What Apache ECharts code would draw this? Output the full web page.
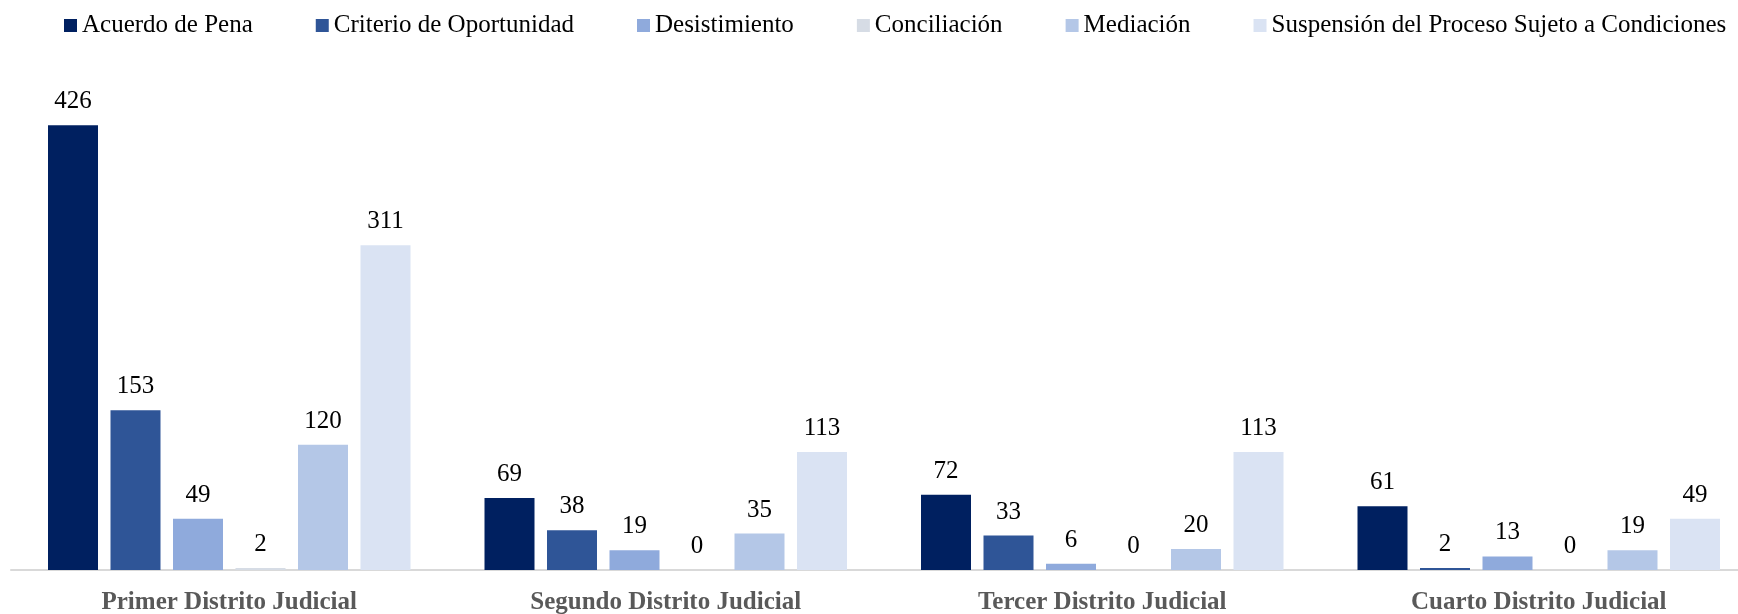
<!DOCTYPE html>
<html><head><meta charset="utf-8">
<script src="https://cdn.jsdelivr.net/npm/echarts@6/dist/echarts.min.js"></script>
<style>html,body{margin:0;padding:0;background:#fff}#c{width:1738px;height:614px}</style>
</head><body><div id="c"></div>
<script>
const categories = ['Primer Distrito Judicial','Segundo Distrito Judicial','Tercer Distrito Judicial','Cuarto Distrito Judicial'];
const seriesNames = ['Acuerdo de Pena','Criterio de Oportunidad','Desistimiento','Conciliación','Mediación','Suspensión del Proceso Sujeto a Condiciones'];
const acuerdoDePena = [426, 69, 72, 61];
const criterioDeOportunidad = [153, 38, 33, 2];
const desistimiento = [49, 19, 6, 13];
const conciliacion = [2, 0, 0, 0];
const mediacion = [120, 35, 20, 19];
const suspension = [311, 113, 113, 49];
const colors = ['#002060','#2F5597','#8FAADC','#D6DCE5','#B4C7E7','#DAE3F3'];
const values = [acuerdoDePena, criterioDeOportunidad, desistimiento, conciliacion, mediacion, suspension];
const serif = '"Liberation Serif", "DejaVu Serif", serif';
const chart = echarts.init(document.getElementById('c'));
chart.setOption({
  animation: false,
  color: colors,
  legend: {
    top: 8, left: 59,
    itemWidth: 13, itemHeight: 13, itemGap: 63,
    icon: 'rect',
    textStyle: { fontFamily: serif, fontSize: 25, color: '#000' },
    data: seriesNames
  },
  grid: { left: 11, right: -19, top: 48, bottom: 44, containLabel: false, outerBoundsMode: 'none' },
  xAxis: {
    type: 'category', data: categories,
    axisLine: { lineStyle: { color: '#D9D9D9', width: 2 } },
    axisTick: { show: false },
    axisLabel: { fontFamily: serif, fontWeight: 'bold', fontSize: 25, color: '#595959', margin: 20 }
  },
  yAxis: { type: 'value', min: 0, max: 500, show: false, splitLine: { show: false } },
  series: seriesNames.map((n, i) => ({
    name: n, type: 'bar', data: values[i], barWidth: 50, barGap: '25%',
    label: { show: true, position: 'top', distance: 11, fontFamily: serif, fontSize: 25, color: '#000' }
  }))
});
</script></body></html>
